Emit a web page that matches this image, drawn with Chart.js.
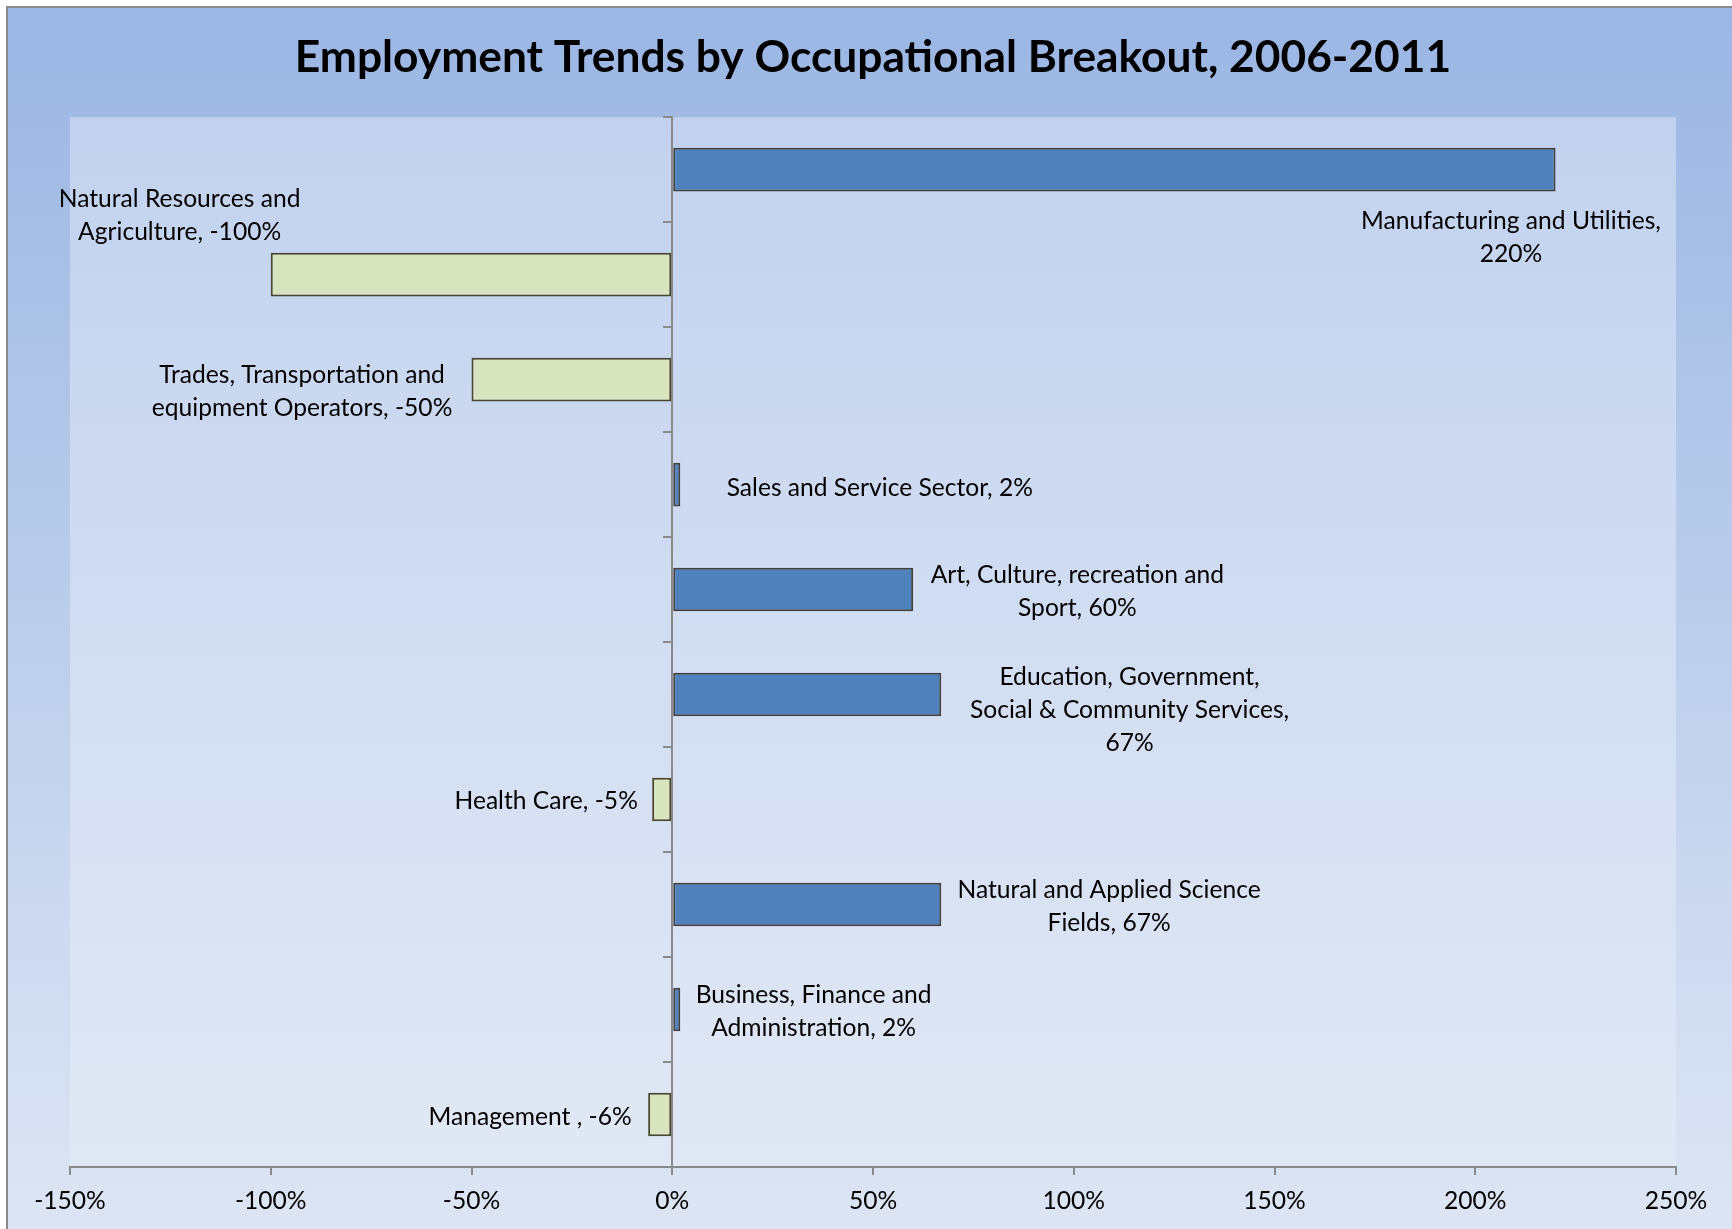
<!DOCTYPE html>
<html>
<head>
<meta charset="utf-8">
<script src="https://cdn.jsdelivr.net/npm/chart.js@4.4.1/dist/chart.umd.min.js"></script>
<style>
  html, body { margin: 0; padding: 0; background: #ffffff; }
  #wrap { width: 1732px; height: 1229px; }
</style>
</head>
<body>
<div id="wrap"><canvas id="c" width="1732" height="1229"></canvas></div>
<script>
// ---- data ----
const categories = [
  "Manufacturing and Utilities",
  "Natural Resources and Agriculture",
  "Trades, Transportation and equipment Operators",
  "Sales and Service Sector",
  "Art, Culture, recreation and Sport",
  "Education, Government, Social & Community Services",
  "Health Care",
  "Natural and Applied Science Fields",
  "Business, Finance and Administration",
  "Management "
];
const changePct = [220, -100, -50, 2, 60, 67, -5, 67, 2, -6];
const xTicks = [-150, -100, -50, 0, 50, 100, 150, 200, 250];
const chartTitle = "Employment Trends by Occupational Breakout, 2006-2011";

// ---- label layout (anchor in axis units: [x value, category offset]) ----
const labelAnchor = [
  [208.9, 0.65], [-122.7, -0.56], [-92.2, 0.115], [51.7, 0.035], [100.9, 0.02],
  [113.9, 0.15], [-31.4, 0.015], [108.8, 0.015], [35.2, 0.02], [-35.4, 0.02]
];
const wordsPerLine = [[3,1],[3,2],[3,3],[5],[4,2],[2,4,1],[3],[4,2],[3,2],[3]];
const LABEL_FONT = 24.6;
const LINE_H = 33;
const FONT_FAMILY = 'Lato, "Open Sans", sans-serif';

const bgPlugin = {
  id: 'bg',
  beforeDraw(chart) {
    const { ctx, width, height, chartArea } = chart;
    ctx.save();
    ctx.fillStyle = '#ffffff';
    ctx.fillRect(0, 0, width, height);
    const g = ctx.createLinearGradient(0, 7, 0, height);
    g.addColorStop(0, '#9AB6E3');
    g.addColorStop(1, '#DDE5F4');
    ctx.fillStyle = g;
    ctx.fillRect(7, 7, width - 7, height - 7);
    ctx.strokeStyle = '#8A8A8A';
    ctx.lineWidth = 2;
    ctx.beginPath();
    ctx.moveTo(7, height);
    ctx.lineTo(7, 7);
    ctx.lineTo(width, 7);
    ctx.stroke();
    const g2 = ctx.createLinearGradient(0, chartArea.top, 0, chartArea.bottom);
    g2.addColorStop(0, '#C2D2EE');
    g2.addColorStop(1, '#E1E8F5');
    ctx.fillStyle = g2;
    ctx.fillRect(chartArea.left, chartArea.top, chartArea.right - chartArea.left, chartArea.bottom - chartArea.top);
    ctx.restore();
  }
};

const labelPlugin = {
  id: 'barLabels',
  afterDatasetsDraw(chart) {
    const { ctx } = chart;
    const xs = chart.scales.x, ys = chart.scales.y;
    ctx.save();
    ctx.font = `${LABEL_FONT}px ${FONT_FAMILY}`;
    ctx.fillStyle = '#000000';
    ctx.textAlign = 'center';
    ctx.textBaseline = 'middle';
    categories.forEach((cat, i) => {
      const words = `${cat}, ${changePct[i]}%`.split(' ');
      const lines = [];
      let k = 0;
      wordsPerLine[i].forEach(n => { lines.push(words.slice(k, k + n).join(' ')); k += n; });
      const cx = xs.getPixelForValue(labelAnchor[i][0]);
      const cy = ys.getPixelForValue(i + labelAnchor[i][1]);
      const y0 = cy - (lines.length - 1) * LINE_H / 2;
      lines.forEach((ln, j) => ctx.fillText(ln, cx, y0 + j * LINE_H));
    });
    ctx.restore();
  }
};

new Chart(document.getElementById('c'), {
  type: 'bar',
  data: {
    labels: categories,
    datasets: [{
      data: changePct,
      backgroundColor: changePct.map(v => v >= 0 ? '#4F81BD' : '#D7E4BD'),
      borderColor: changePct.map(v => v >= 0 ? '#404040' : '#4A4630'),
      borderWidth: 2,
      borderSkipped: false,
      barPercentage: 0.415,
      categoryPercentage: 1.0
    }]
  },
  options: {
    indexAxis: 'y',
    responsive: false,
    animation: false,
    devicePixelRatio: 1,
    layout: { padding: { left: 70, right: 56, top: 0, bottom: 2.5 } },
    plugins: {
      legend: { display: false },
      tooltip: { enabled: false },
      title: {
        display: true,
        text: chartTitle,
        color: '#000000',
        font: { family: FONT_FAMILY, size: 44.3, weight: 'bold', lineHeight: 1.2 },
        padding: { top: 31, bottom: 33 }
      }
    },
    scales: {
      x: {
        type: 'linear',
        min: xTicks[0],
        max: xTicks[xTicks.length - 1],
        ticks: {
          stepSize: xTicks[1] - xTicks[0],
          callback: v => v + '%',
          color: '#000000',
          font: { family: FONT_FAMILY, size: 24.6 },
          padding: 11,
          maxRotation: 0
        },
        grid: { drawOnChartArea: false, drawTicks: true, tickLength: 8, color: '#8A8A8A', lineWidth: 2 },
        border: { color: '#8A8A8A', width: 2 }
      },
      y: {
        type: 'category',
        position: { x: 0 },
        ticks: { display: false },
        grid: { drawOnChartArea: false, drawTicks: true, tickLength: 8, offset: true, color: '#8A8A8A', lineWidth: 2 },
        border: { color: '#8A8A8A', width: 2 }
      }
    }
  },
  plugins: [bgPlugin, labelPlugin]
});
</script>
</body>
</html>
